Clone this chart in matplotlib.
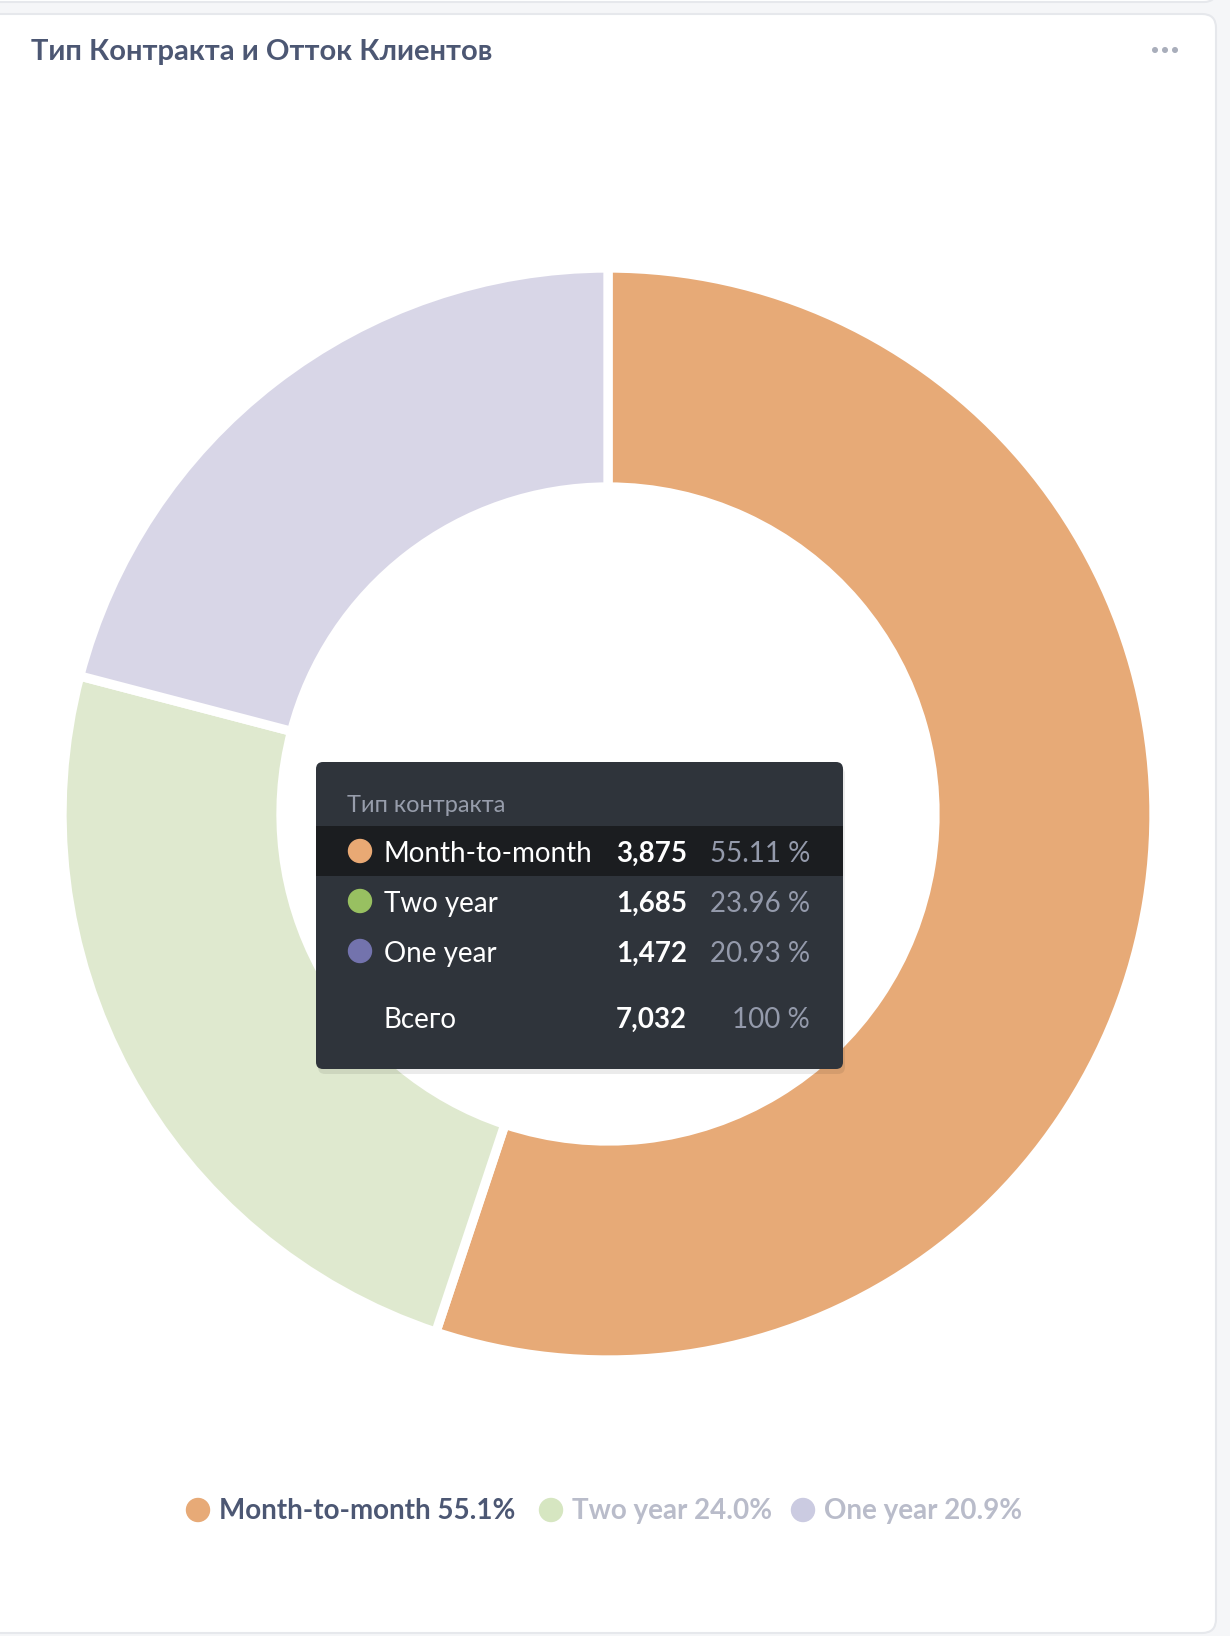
import matplotlib.pyplot as plt
from matplotlib.patches import FancyBboxPatch, Rectangle, Circle

W, H = 1230, 1636

title = "Тип Контракта и Отток Клиентов"
tooltip_header = "Тип контракта"
total_label = "Всего"
contract_types = ["Month-to-month", "Two year", "One year"]
counts = [3875, 1685, 1472]
slice_colors = ["#e7aa77", "#dfe9cf", "#d8d6e7"]
dot_colors = ["#e9a974", "#98c061", "#7373ad"]
legend_colors = ["#e7aa77", "#d6e6c1", "#cbcbe1"]
legend_text_colors = ["#4c5773", "#b9bcca", "#b9bcca"]

total = sum(counts)
shares = [c / total * 100 for c in counts]

plt.rcParams["font.family"] = ["Lato", "DejaVu Sans"]

fig = plt.figure(figsize=(W / 100, H / 100), dpi=100, facecolor="#f5f6f8")

# background card, pixel coordinates
bg = fig.add_axes([0, 0, 1, 1])
bg.set_xlim(0, W)
bg.set_ylim(H, 0)
bg.axis("off")
bg.add_patch(FancyBboxPatch((-20, -40), 1236, 42, boxstyle="round,pad=0,rounding_size=12",
                            facecolor="white", edgecolor="#e6e8ec", lw=1.5))
bg.add_patch(FancyBboxPatch((-20, 14), 1236, 1619, boxstyle="round,pad=0,rounding_size=14",
                            facecolor="white", edgecolor="#e6e8ec", lw=1.5))
bg.text(31, 52, title, fontsize=21, fontweight="bold", color="#4c5773", va="center", ha="left")
for dx in (-10, 0, 10):
    bg.add_patch(Circle((1165 + dx, 50), 2.3, color="#a9aebb"))

# donut (white edge eats half the line width on each side)
cx, cy, R, r_in = 608, 814, 546, 327
ax = fig.add_axes([(cx - R) / W, (H - cy - R) / H, 2 * R / W, 2 * R / H])
ax.set_zorder(2)
ax.pie(counts, colors=slice_colors, startangle=90, counterclock=False, radius=1,
       wedgeprops=dict(width=1 - r_in / R, edgecolor="white", linewidth=6.7))
ax.set_xlim(-1, 1)
ax.set_ylim(-1, 1)
ax.set_aspect("equal")
ax.axis("off")

# overlay: tooltip + legend
ov = fig.add_axes([0, 0, 1, 1])
ov.set_zorder(3)
ov.set_xlim(0, W)
ov.set_ylim(H, 0)
ov.axis("off")
ov.patch.set_alpha(0)

tx0, ty0, tx1, ty1 = 316, 762, 843, 1069
ov.add_patch(FancyBboxPatch((tx0 + 2, ty0 + 5), tx1 - tx0, ty1 - ty0,
                            boxstyle="round,pad=0,rounding_size=7",
                            facecolor="black", alpha=0.08, edgecolor="none"))
ov.add_patch(FancyBboxPatch((tx0, ty0), tx1 - tx0, ty1 - ty0,
                            boxstyle="round,pad=0,rounding_size=7",
                            facecolor="#2f343b", edgecolor="none"))
ov.add_patch(Rectangle((tx0, 826), tx1 - tx0, 50, facecolor="#1b1d20", edgecolor="none"))
ov.text(347, 805, tooltip_header, fontsize=17, color="#979dab", va="center")

row_y = [854, 904, 954]
for y, name, c, s, col in zip(row_y, contract_types, counts, shares, dot_colors):
    ov.add_patch(Circle((360, y - 3), 11.5, color=col))
    ov.text(384, y, name, fontsize=20, color="white", va="center")
    ov.text(687, y, f"{c:,}", fontsize=20, color="white", fontweight="bold", va="center", ha="right")
    ov.text(810, y, f"{s:.2f} %", fontsize=20, color="#949aab", va="center", ha="right")
ov.text(384, 1020, total_label, fontsize=20, color="white", va="center")
ov.text(687, 1020, f"{total:,}", fontsize=20, color="white", fontweight="bold", va="center", ha="right")
ov.text(810, 1020, "100 %", fontsize=20, color="#949aab", va="center", ha="right")

# legend
leg_dot_x = [198, 551, 803]
for x, name, s, col, tcol in zip(leg_dot_x, contract_types, shares, legend_colors, legend_text_colors):
    ov.add_patch(Circle((x, 1510), 11.5, color=col))
    ov.text(x + 21, 1511, f"{name} {s:.1f}%", fontsize=20, fontweight="bold", color=tcol, va="center")

fig.savefig("out.png", dpi=100, facecolor=fig.get_facecolor())
